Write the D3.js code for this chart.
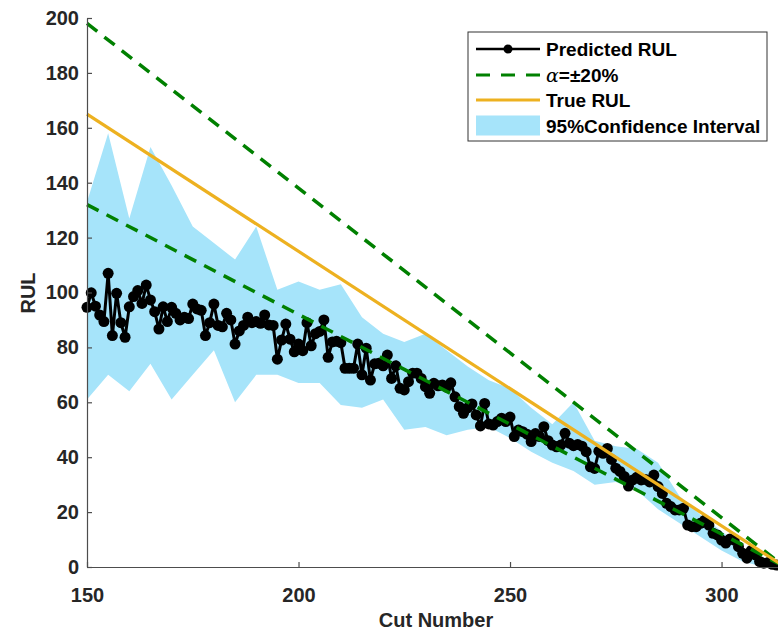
<!DOCTYPE html>
<html lang="en">
<head>
    <meta charset="UTF-8">
    <title>RUL prediction</title>
    <script src="https://d3js.org/d3.v7.min.js"></script>
    <style>
        body { margin: 0; background: #fff; }
        svg { font-family: "Liberation Sans", Arial, sans-serif; font-weight: bold; }
        .axis path, .axis line { stroke: #4d4d4d; stroke-width: 1.2px; }
        .axis text { fill: #262626; font-size: 20px; font-weight: bold; font-family: "Liberation Sans", Arial, sans-serif; }
    </style>
</head>
<body>
<svg id="canvas" width="778" height="633"></svg>
<script>
    // cut numbers of the predictions
    let cuts = d3.range(150, 314);
    // predicted RUL, one value per cut
    let predicted = [
        94.6, 99.9, 95, 91.8, 89.4, 107, 84.3, 99.7, 89, 83.7,
        94.8, 98.5, 100.7, 96, 102.7, 97.3, 93, 86.7, 94.8, 89.4,
        94.6, 92.4, 90, 91, 90.5, 95.8, 94, 93.5, 84.3, 89,
        95.8, 88, 87.5, 92.4, 90, 81.2, 86, 88, 91, 89,
        89.4, 88.8, 91.8, 88.2, 88, 75.7, 82.7, 88.5, 83, 78.4,
        81.2, 78.8, 89, 80.6, 85, 85.8, 90, 76.4, 82, 82.2,
        81.7, 72.4, 72.4, 72.4, 81.2, 70, 79.7, 68.1, 74, 74.2,
        73.3, 77.2, 68.7, 73.3, 65.1, 64.5, 67.5, 70.6, 70.6, 68.7,
        65.7, 63.3, 66.9, 66, 66.3, 65.5, 67.1, 62, 58.4, 56,
        58, 59.4, 55.4, 51.4, 59.6, 52.1, 51.7, 53, 54.2, 53,
        54.6, 47.5, 49.9, 49.3, 48.4, 45.7, 48.6, 47.5, 51.1, 46,
        44.4, 43.8, 44.4, 48.7, 45.1, 44.2, 44.6, 44, 42, 36.5,
        35.9, 42.2, 41.4, 43.2, 39.2, 36, 34.8, 33, 29.5, 31.7,
        32.7, 31.7, 31.9, 31, 33.5, 29.3, 26.8, 23.2, 22, 20.8,
        20.8, 21.4, 15.3, 14.7, 14.7, 15.9, 17, 15.3, 12.3, 11.7,
        9.8, 8.7, 10.2, 9.8, 7.4, 5, 3.2, 6, 4.4, 2,
        1.4, 1.6, 1, 0.7
    ];
    // 95% confidence band, sampled every 5 cuts
    let bandCuts = [150, 155, 160, 165, 170, 175, 180, 185, 190, 195, 200, 205, 210, 215, 220, 225, 230,
        235, 240, 245, 250, 255, 260, 265, 270, 275, 280, 285, 290, 295, 300, 305, 310, 313];
    let bandUpper = [133, 158, 127, 153, 139, 124, 118, 112, 124, 101, 104, 101, 103, 91, 85, 82, 85,
        79, 73, 68, 65, 58, 52, 60, 46, 44, 43, 38, 26, 19, 13, 7, 3, 0.5];
    let bandLower = [61, 70, 64, 74, 61, 70, 79, 60, 70, 70, 67, 67, 59, 58, 61, 50, 51,
        48, 50, 51, 47, 42, 38, 35, 30, 31, 28, 21, 16, 11, 6, 2, 0, 0];
    // true RUL and the +-20% bounds (straight lines)
    let lineCuts = [150, 315];
    let trueRUL = [165, 0];
    let upperBound = [198, 0];
    let lowerBound = [132, 0];

    let xTicks = [150, 200, 250, 300];
    let yTicks = [0, 20, 40, 60, 80, 100, 120, 140, 160, 180, 200];

    let svg = d3.select('svg');
    let x = d3.scaleLinear().domain([150, 315]).range([87, 785]);
    let y = d3.scaleLinear().domain([0, 200]).range([567, 18]);

    // confidence band
    let area = d3.area()
        .x(function (d, i) { return x(bandCuts[i]); })
        .y0(function (d, i) { return y(bandLower[i]); })
        .y1(function (d, i) { return y(bandUpper[i]); });
    svg.append('path')
        .datum(bandCuts)
        .attr('d', area)
        .attr('fill', '#a6e4fa');

    // predicted RUL
    let predLine = d3.line()
        .x(function (d, i) { return x(cuts[i]); })
        .y(function (d) { return y(d); });
    svg.append('path')
        .datum(predicted)
        .attr('d', predLine)
        .attr('fill', 'none')
        .attr('stroke', 'black')
        .attr('stroke-width', 3);
    svg.append('g').selectAll('circle')
        .data(predicted)
        .enter()
        .append('circle')
        .attr('cx', function (d, i) { return x(cuts[i]); })
        .attr('cy', function (d) { return y(d); })
        .attr('r', 5.5)
        .attr('fill', 'black');

    let straight = d3.line()
        .x(function (d, i) { return x(lineCuts[i]); })
        .y(function (d) { return y(d); });
    [upperBound, lowerBound].forEach(function (b) {
        svg.append('path')
            .datum(b)
            .attr('d', straight)
            .attr('fill', 'none')
            .attr('stroke', '#008000')
            .attr('stroke-width', 3.5)
            .attr('stroke-dasharray', '13,9');
    });
    svg.append('path')
        .datum(trueRUL)
        .attr('d', straight)
        .attr('fill', 'none')
        .attr('stroke', '#edb120')
        .attr('stroke-width', 3.2);

    // axes
    svg.append('g')
        .attr('class', 'axis')
        .attr('transform', 'translate(87,0)')
        .call(d3.axisLeft(y).tickValues(yTicks).tickSizeInner(-5).tickSizeOuter(0).tickPadding(8));
    svg.append('g')
        .attr('class', 'axis')
        .attr('transform', 'translate(0,567)')
        .call(d3.axisBottom(x).tickValues(xTicks).tickSizeInner(-5).tickSizeOuter(0).tickPadding(21));

    svg.append('text')
        .attr('x', 436).attr('y', 627)
        .attr('text-anchor', 'middle')
        .attr('font-size', 20)
        .attr('fill', '#262626')
        .text('Cut Number');
    svg.append('text')
        .attr('transform', 'translate(35,293) rotate(-90)')
        .attr('text-anchor', 'middle')
        .attr('font-size', 20)
        .attr('fill', '#262626')
        .text('RUL');

    // legend
    let lg = svg.append('g');
    lg.append('rect')
        .attr('x', 468).attr('y', 32).attr('width', 299).attr('height', 109)
        .attr('fill', 'white').attr('stroke', '#333').attr('stroke-width', 1);
    let rowY = [49, 75, 100, 125.5];
    lg.append('line').attr('x1', 476).attr('x2', 540).attr('y1', rowY[0]).attr('y2', rowY[0])
        .attr('stroke', 'black').attr('stroke-width', 2.5);
    lg.append('circle').attr('cx', 508).attr('cy', rowY[0]).attr('r', 4.5).attr('fill', 'black');
    lg.append('line').attr('x1', 476).attr('x2', 540).attr('y1', rowY[1]).attr('y2', rowY[1])
        .attr('stroke', '#008000').attr('stroke-width', 3).attr('stroke-dasharray', '14,11');
    lg.append('line').attr('x1', 476).attr('x2', 540).attr('y1', rowY[2]).attr('y2', rowY[2])
        .attr('stroke', '#edb120').attr('stroke-width', 3);
    lg.append('rect').attr('x', 476).attr('y', rowY[3] - 10).attr('width', 64).attr('height', 20)
        .attr('fill', '#a6e4fa');

    let lt = function (i) {
        return lg.append('text').attr('x', 546).attr('y', rowY[i] + 7)
            .attr('font-size', 19).attr('fill', 'black');
    };
    lt(0).text('Predicted RUL');
    let a = lt(1);
    a.append('tspan').attr('font-family', '"DejaVu Serif", serif').attr('font-style', 'italic')
        .attr('font-weight', 'normal').text('α');
    a.append('tspan').text('=±20%');
    lt(2).text('True RUL');
    lt(3).text('95%Confidence Interval');
</script>
</body>
</html>
